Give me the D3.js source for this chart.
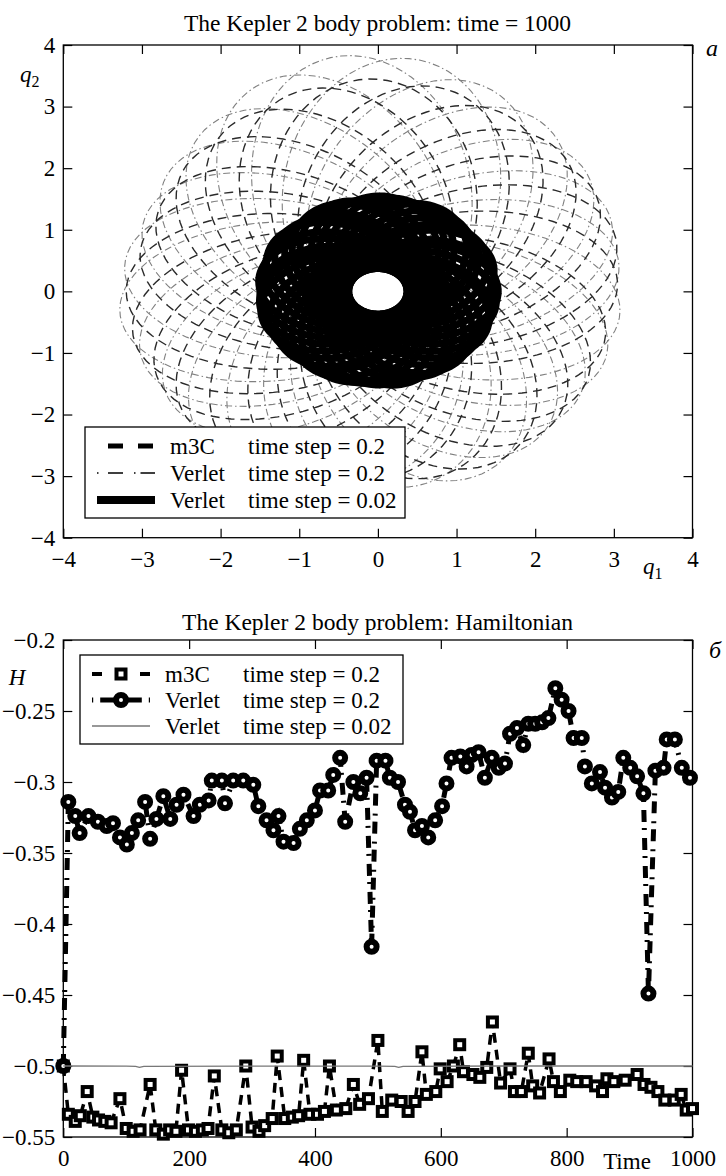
<!DOCTYPE html>
<html>
<head>
<meta charset="utf-8">
<script src="https://cdn.jsdelivr.net/npm/d3@7"></script>
<style>
  body { margin: 0; background: #fff; }
  svg { display: block; }
  svg text { font-family: "Liberation Serif", "Times New Roman", Times, serif; }
  .tick line { stroke: #000; stroke-width: 1.2; }
</style>
</head>
<body>
<svg id="chart" width="726" height="1176"></svg>
<script>
// ---- data ----
// top panel: orbit loops (apoapsis direction in degrees, apoapsis distance), periapsis fixed
const m3cLoopAngle = [3, 18, 33, 47, 62, 77, 92, 106, 121, 136, 151, 165, 180, 195, 210, 224, 239, 254, 268, 283, 298, 313, 327, 342];
const m3cLoopApo   = [3.05, 3.15, 3.2, 3.25, 3.3, 3.4, 3.45, 3.4, 3.3, 3.2, 3.1, 3.1, 3.2, 3.2, 3.15, 3.2, 3.2, 3.1, 3.05, 3.1, 3.15, 3.1, 3.05, 3.0];
const m3cLoopPeri  = 0.5;
const verletLoopAngle = [10, 25, 40, 55, 70, 84, 97, 111, 126, 141, 156, 171, 187, 202, 217, 232, 247, 262, 277, 292, 307, 322, 337, 352];
const verletLoopApo   = [3.1, 3.2, 3.3, 3.45, 3.6, 3.8, 3.85, 3.7, 3.45, 3.3, 3.2, 3.25, 3.3, 3.2, 3.2, 3.3, 3.25, 3.15, 3.2, 3.25, 3.15, 3.1, 3.1, 3.1];
const verletLoopPeri  = 0.5;
const fineLoopAngle = [0, 9, 21, 30, 41, 50, 59, 70, 80, 89, 100, 111, 119, 130, 140, 149, 160, 170,
                       181, 190, 199, 210, 221, 229, 240, 250, 259, 270, 281, 290, 300, 309, 320, 331, 339, 350];
const fineLoopApo   = [1.53, 1.5, 1.54, 1.52, 1.5, 1.53, 1.56, 1.51, 1.53, 1.55, 1.5, 1.53, 1.54, 1.49, 1.52, 1.55, 1.51, 1.53,
                       1.5, 1.52, 1.54, 1.51, 1.52, 1.49, 1.52, 1.53, 1.51, 1.52, 1.54, 1.5, 1.52, 1.53, 1.51, 1.53, 1.5, 1.52];
const fineLoopPeri  = 0.37;
const qTicks = [-4, -3, -2, -1, 0, 1, 2, 3, 4];

// bottom panel: Hamiltonian over time
const m3cT = [0, 8, 19, 27, 38, 47, 56, 66, 76, 90, 100, 111, 122, 138, 147, 159, 169, 179, 188, 199,
  210, 221, 230, 240, 252, 263, 275, 290, 300, 311, 320, 332, 340, 352, 364, 374, 382, 392, 404, 415,
  423, 434, 449, 461, 471, 485, 500, 507, 522, 537, 548, 559, 570, 577, 592, 599, 610, 620, 630, 636,
  651, 662, 673, 682, 695, 710, 717, 728, 739, 746, 757, 772, 779, 790, 805, 816, 831, 846, 857, 864,
  875, 893, 912, 923, 934, 945, 956, 971, 982, 990, 1000];
const m3cH = [-0.5, -0.534, -0.539, -0.535, -0.518, -0.536, -0.538, -0.539, -0.54, -0.523, -0.544, -0.546, -0.545, -0.513, -0.545, -0.548, -0.545, -0.546, -0.503, -0.545,
  -0.546, -0.545, -0.544, -0.507, -0.545, -0.547, -0.545, -0.5, -0.543, -0.546, -0.542, -0.537, -0.493, -0.537, -0.536, -0.535, -0.496, -0.534, -0.534, -0.532,
  -0.5, -0.531, -0.53, -0.513, -0.527, -0.523, -0.482, -0.532, -0.524, -0.525, -0.532, -0.525, -0.49, -0.52, -0.518, -0.502, -0.511, -0.5, -0.485, -0.504,
  -0.506, -0.508, -0.501, -0.469, -0.512, -0.502, -0.518, -0.518, -0.491, -0.514, -0.519, -0.495, -0.511, -0.518, -0.51, -0.511, -0.511, -0.514, -0.518, -0.509,
  -0.511, -0.51, -0.506, -0.513, -0.515, -0.518, -0.524, -0.524, -0.52, -0.531, -0.53];
const verletT = [0, 8, 19, 26, 40, 55, 69, 79, 90, 101, 109, 119, 130, 138, 148, 159, 170, 180, 191, 207,
  217, 231, 236, 252, 257, 270, 286, 302, 310, 323, 334, 342, 350, 366, 376, 387, 400, 408, 421, 429,
  440, 448, 461, 472, 482, 490, 498, 512, 519, 532, 543, 551, 559, 570, 580, 591, 602, 609, 617, 631,
  641, 649, 660, 670, 681, 692, 702, 710, 721, 731, 739, 750, 761, 771, 782, 792, 803, 811, 824, 829,
  840, 853, 861, 872, 882, 890, 901, 912, 922, 930, 941, 954, 959, 972, 983, 996];
const verletH = [-0.5, -0.314, -0.324, -0.336, -0.324, -0.328, -0.331, -0.329, -0.339, -0.344, -0.336, -0.327, -0.314, -0.34, -0.326, -0.31, -0.326, -0.316, -0.309, -0.324,
  -0.316, -0.313, -0.299, -0.299, -0.315, -0.299, -0.299, -0.302, -0.317, -0.327, -0.334, -0.324, -0.342, -0.343, -0.333, -0.327, -0.32, -0.306, -0.306, -0.295,
  -0.283, -0.328, -0.3, -0.308, -0.297, -0.416, -0.285, -0.285, -0.297, -0.3, -0.316, -0.321, -0.334, -0.331, -0.339, -0.327, -0.317, -0.301, -0.283, -0.282,
  -0.289, -0.281, -0.279, -0.297, -0.283, -0.29, -0.287, -0.266, -0.262, -0.274, -0.259, -0.259, -0.258, -0.255, -0.234, -0.242, -0.25, -0.269, -0.269, -0.289,
  -0.301, -0.293, -0.304, -0.311, -0.307, -0.283, -0.29, -0.296, -0.308, -0.449, -0.292, -0.29, -0.27, -0.27, -0.29, -0.297];
const fineT = [0, 100, 115, 121, 128, 300, 500, 527, 533, 540, 700, 1000];
const fineH = [-0.5, -0.5001, -0.5003, -0.501, -0.5003, -0.5001, -0.5001, -0.5003, -0.501, -0.5003, -0.5, -0.5];
const timeTicks = [0, 200, 400, 600, 800, 1000];
const hTicks = [-0.55, -0.5, -0.45, -0.4, -0.35, -0.3, -0.25, -0.2];

const legendNames = ["m3C", "Verlet", "Verlet"];
const legendSteps = ["time step = 0.2", "time step = 0.2", "time step = 0.02"];

// ---- drawing ----
const FONT = '"Liberation Serif", "Times New Roman", Times, serif';
const svg = d3.select("#chart").attr("font-family", FONT);
const fmt = d3.format("");

function drawFrame(g, x, y, xTicks, yTicks) {
  const [x0, x1] = x.range();
  const [yb, yt] = y.range();
  const clean = s => { s.select(".domain").remove(); s.attr("font-family", FONT).attr("font-size", null); };
  g.append("g").attr("transform", `translate(0,${yb})`)
    .call(d3.axisBottom(x).tickValues(xTicks).tickSizeInner(-9).tickSizeOuter(0).tickPadding(12.5).tickFormat(fmt))
    .call(clean);
  g.append("g").attr("transform", `translate(0,${yt})`)
    .call(d3.axisTop(x).tickValues(xTicks).tickSizeInner(-9).tickSizeOuter(0).tickFormat(""))
    .call(clean);
  g.append("g").attr("transform", `translate(${x0},0)`)
    .call(d3.axisLeft(y).tickValues(yTicks).tickSizeInner(-9).tickSizeOuter(0).tickPadding(8).tickFormat(fmt))
    .call(clean);
  g.append("g").attr("transform", `translate(${x1},0)`)
    .call(d3.axisRight(y).tickValues(yTicks).tickSizeInner(-9).tickSizeOuter(0).tickFormat(""))
    .call(clean);
  g.selectAll(".tick text").attr("font-size", 23).attr("fill", "#000").attr("font-family", FONT);
  g.append("rect").attr("x", x0).attr("y", yt).attr("width", x1 - x0).attr("height", yb - yt)
    .attr("fill", "none").attr("stroke", "#000").attr("stroke-width", 1.3);
}

// ===== top panel: orbits =====
const xq = d3.scaleLinear().domain([-4, 4]).range([63.3, 692.5]);
const yq = d3.scaleLinear().domain([-4, 4]).range([537.7, 45]);
const topG = svg.append("g");

function loopPoints(apoDeg, ra, rp) {
  const e = (ra - rp) / (ra + rp), p = 2 * ra * rp / (ra + rp);
  const th = (apoDeg + 180) * Math.PI / 180;
  return d3.range(0, 361, 2).map(k => {
    const f = k * Math.PI / 180;
    const r = p / (1 + e * Math.cos(f));
    return [r * Math.cos(th + f), r * Math.sin(th + f)];
  });
}
const orbitLine = d3.line().x(d => xq(d[0])).y(d => yq(d[1]));

topG.append("g").selectAll("path")
  .data(verletLoopAngle.map((a, i) => loopPoints(a, verletLoopApo[i], verletLoopPeri)))
  .join("path").attr("d", orbitLine)
  .attr("fill", "none").attr("stroke", "#808080").attr("stroke-width", 1.1).attr("stroke-dasharray", "7,3,1.5,3");

topG.append("g").selectAll("path")
  .data(m3cLoopAngle.map((a, i) => loopPoints(a, m3cLoopApo[i], m3cLoopPeri)))
  .join("path").attr("d", orbitLine)
  .attr("fill", "none").attr("stroke", "#2a2a2a").attr("stroke-width", 1.4).attr("stroke-dasharray", "9,6");

topG.append("g").selectAll("path")
  .data(fineLoopAngle.map((a, i) => loopPoints(a, fineLoopApo[i], fineLoopPeri)))
  .join("path").attr("d", orbitLine)
  .attr("fill", "none").attr("stroke", "#000").attr("stroke-width", 7);

drawFrame(topG, xq, yq, qTicks, qTicks);

// top legend
const tl = topG.append("g");
tl.append("rect").attr("x", 85).attr("y", 427).attr("width", 320).attr("height", 91)
  .attr("fill", "#fff").attr("stroke", "#000").attr("stroke-width", 1.3);
const tRows = [446, 473, 500];
tl.append("line").attr("x1", 108).attr("x2", 155).attr("y1", tRows[0]).attr("y2", tRows[0])
  .attr("stroke", "#000").attr("stroke-width", 5).attr("stroke-dasharray", "15,15");
tl.append("line").attr("x1", 97).attr("x2", 155).attr("y1", tRows[1]).attr("y2", tRows[1])
  .attr("stroke", "#000").attr("stroke-width", 1.5).attr("stroke-dasharray", "1.5,9.5,15,11,1.5,5,15");
tl.append("line").attr("x1", 97).attr("x2", 155).attr("y1", tRows[2]).attr("y2", tRows[2])
  .attr("stroke", "#000").attr("stroke-width", 8);
tRows.forEach((ry, i) => {
  tl.append("text").attr("x", 170).attr("y", ry + 8).attr("font-size", 23).text(legendNames[i]);
  tl.append("text").attr("x", 248).attr("y", ry + 8).attr("font-size", 23).text(legendSteps[i]);
});

topG.append("text").attr("x", 377.5).attr("y", 31).attr("text-anchor", "middle").attr("font-size", 23.5)
  .text("The Kepler 2 body problem: time = 1000");
const q2 = topG.append("text").attr("x", 20).attr("y", 82).attr("font-size", 23);
q2.append("tspan").attr("font-style", "italic").text("q");
q2.append("tspan").attr("font-size", 16).attr("dy", 5).text("2");
const q1 = topG.append("text").attr("x", 643).attr("y", 574).attr("font-size", 23);
q1.append("tspan").attr("font-style", "italic").text("q");
q1.append("tspan").attr("font-size", 16).attr("dy", 5).text("1");
topG.append("text").attr("x", 706).attr("y", 56).attr("font-size", 24).attr("font-style", "italic").text("a");

// ===== bottom panel: Hamiltonian =====
const xt = d3.scaleLinear().domain([0, 1000]).range([63.3, 692.5]);
const yh = d3.scaleLinear().domain([-0.55, -0.2]).range([1137, 640]);
const botG = svg.append("g");

drawFrame(botG, xt, yh, timeTicks, hTicks);

const hLine = d3.line().x(d => xt(d[0])).y(d => yh(d[1]));
const m3cPts = m3cT.map((t, i) => [t, m3cH[i]]);
const verletPts = verletT.map((t, i) => [t, verletH[i]]);
const finePts = fineT.map((t, i) => [t, fineH[i]]);

botG.append("path").datum(m3cPts).attr("d", hLine)
  .attr("fill", "none").attr("stroke", "#000").attr("stroke-width", 3.5).attr("stroke-dasharray", "10,7");
botG.append("g").selectAll("rect").data(m3cPts).join("rect")
  .attr("x", d => xt(d[0]) - 4.5).attr("y", d => yh(d[1]) - 4.5).attr("width", 9).attr("height", 9)
  .attr("fill", "#fff").attr("stroke", "#000").attr("stroke-width", 4);

botG.append("path").datum(verletPts).attr("d", hLine)
  .attr("fill", "none").attr("stroke", "#000").attr("stroke-width", 5).attr("stroke-dasharray", "12,6,2,8");
botG.append("g").selectAll("circle").data(verletPts).join("circle")
  .attr("cx", d => xt(d[0])).attr("cy", d => yh(d[1])).attr("r", 5)
  .attr("fill", "#fff").attr("stroke", "#000").attr("stroke-width", 6);

botG.append("path").datum(finePts).attr("d", hLine)
  .attr("fill", "none").attr("stroke", "#777").attr("stroke-width", 1.3);

// bottom legend
const bl = botG.append("g");
bl.append("rect").attr("x", 80).attr("y", 655).attr("width", 323).attr("height", 89)
  .attr("fill", "#fff").attr("stroke", "#000").attr("stroke-width", 1.3);
const bRows = [674, 700, 726];
bl.append("line").attr("x1", 92).attr("x2", 150).attr("y1", bRows[0]).attr("y2", bRows[0])
  .attr("stroke", "#000").attr("stroke-width", 4).attr("stroke-dasharray", "10,38,10");
bl.append("rect").attr("x", 116.5).attr("y", bRows[0] - 4.5).attr("width", 9).attr("height", 9)
  .attr("fill", "#fff").attr("stroke", "#000").attr("stroke-width", 4);
bl.append("line").attr("x1", 92).attr("x2", 150).attr("y1", bRows[1]).attr("y2", bRows[1])
  .attr("stroke", "#000").attr("stroke-width", 5).attr("stroke-dasharray", "1.2,7,41.6,7,1.2");
bl.append("circle").attr("cx", 121).attr("cy", bRows[1]).attr("r", 5)
  .attr("fill", "#fff").attr("stroke", "#000").attr("stroke-width", 6);
bl.append("line").attr("x1", 92).attr("x2", 150).attr("y1", bRows[2]).attr("y2", bRows[2])
  .attr("stroke", "#333").attr("stroke-width", 1.2);
bRows.forEach((ry, i) => {
  bl.append("text").attr("x", 165).attr("y", ry + 8).attr("font-size", 23).text(legendNames[i]);
  bl.append("text").attr("x", 243).attr("y", ry + 8).attr("font-size", 23).text(legendSteps[i]);
});

botG.append("text").attr("x", 377.5).attr("y", 630).attr("text-anchor", "middle").attr("font-size", 23.5)
  .text("The Kepler 2 body problem: Hamiltonian");
botG.append("text").attr("x", 17).attr("y", 685).attr("text-anchor", "middle").attr("font-size", 23)
  .attr("font-style", "italic").text("H");
botG.append("text").attr("x", 627).attr("y", 1169).attr("text-anchor", "middle").attr("font-size", 23).text("Time");
botG.append("text").attr("x", 709).attr("y", 658).attr("font-size", 24).attr("font-style", "italic").text("б");
</script>
</body>
</html>
